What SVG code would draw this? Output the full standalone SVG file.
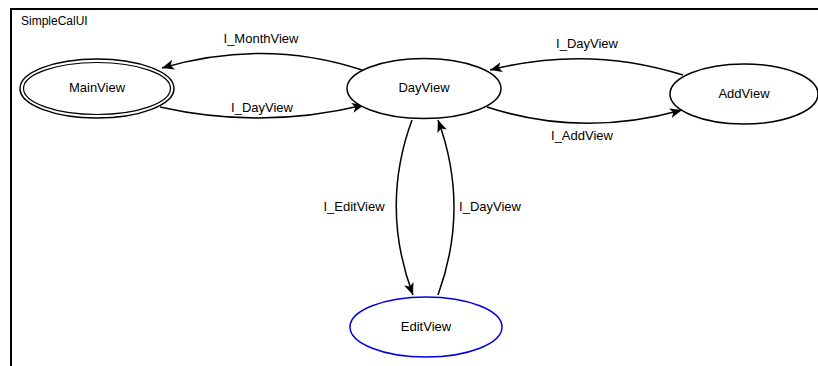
<svg xmlns="http://www.w3.org/2000/svg" width="818" height="366" viewBox="0 0 818 366">
<defs>
<style>
text{font-family:"Liberation Sans",Arial,sans-serif;font-size:13px;fill:#000}
.n{fill:#fff;stroke:#000;stroke-width:1.5}
.e{fill:none;stroke:#000;stroke-width:1.5;marker-end:url(#ah)}
.c{text-anchor:middle}
</style>
<marker id="ah" markerUnits="userSpaceOnUse" markerWidth="14" markerHeight="12" refX="12" refY="5" orient="auto">
<path d="M0,0 L12,5 L0,10 L3,5 Z" fill="#000"/>
</marker>
</defs>
<rect width="818" height="366" fill="#fff"/>
<g id="frame">
<path d="M11,366 V9 H818" fill="none" stroke="#000" stroke-width="2"/>
<text x="21" y="25" style="font-size:12px">SimpleCalUI</text>
</g>
<g id="connectors">
<path class="e" d="M362,70 Q265,38 162,68"/>
<text class="c" x="261" y="43">I_MonthView</text>
<path class="e" d="M160,107 Q262,130 364,105"/>
<text class="c" x="262" y="112">I_DayView</text>
<path class="e" d="M683,75 Q588,45 490,70"/>
<text class="c" x="587" y="48">I_DayView</text>
<path class="e" d="M487,107 Q582,138 682,110"/>
<text class="c" x="582" y="140">I_AddView</text>
<path class="e" d="M412,120 Q380,207 413,295"/>
<text class="c" x="354" y="211">I_EditView</text>
<path class="e" d="M438,295 Q470,207 438,120"/>
<text class="c" x="490" y="211">I_DayView</text>
</g>
<g id="MainView">
<ellipse class="n" cx="97" cy="88.5" rx="77" ry="29.5"/>
<ellipse cx="97" cy="88.5" rx="73.5" ry="26" fill="none" stroke="#000" stroke-width="1.2"/>
<text class="c" x="97" y="92">MainView</text>
</g>
<g id="DayView">
<ellipse class="n" cx="424" cy="88.5" rx="77" ry="30"/>
<text class="c" x="424" y="92">DayView</text>
</g>
<g id="AddView">
<ellipse class="n" cx="744" cy="94" rx="74" ry="30"/>
<text class="c" x="744" y="98">AddView</text>
</g>
<g id="EditView">
<ellipse class="n" cx="426" cy="327" rx="76" ry="30" style="stroke:#0000dd"/>
<text class="c" x="426" y="331">EditView</text>
</g>
</svg>
